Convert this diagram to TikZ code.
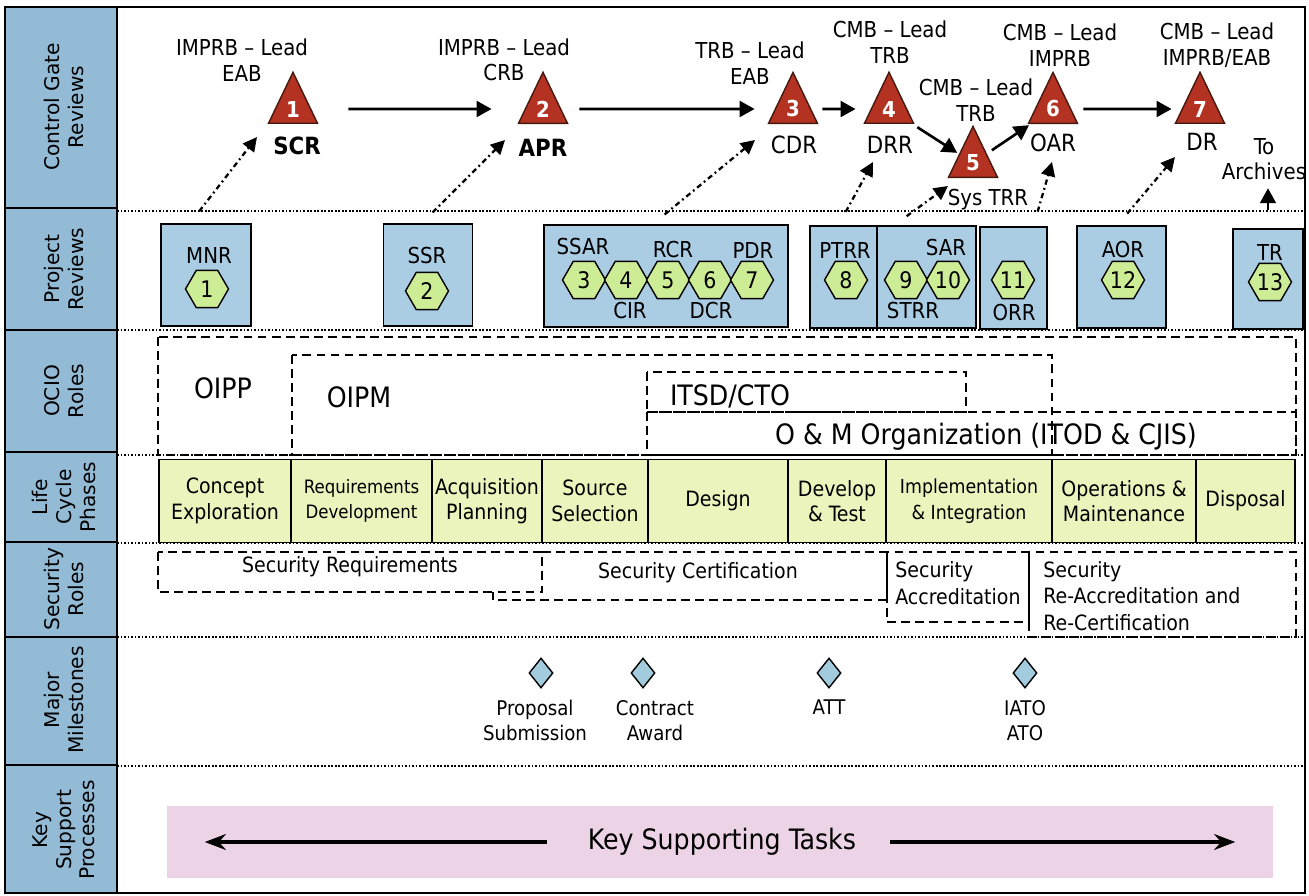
\documentclass[tikz,border=0pt]{standalone}
\usepackage{fontspec}
\setmainfont{DejaVu Sans Condensed}
\newfontfamily\sidefont{DejaVu Sans}
\usetikzlibrary{shapes.geometric,arrows.meta,positioning}
\definecolor{sideblue}{RGB}{147,187,214}
\definecolor{reviewblue}{RGB}{170,205,228}
\definecolor{gatered}{RGB}{180,50,34}
\definecolor{gateedge}{RGB}{70,25,15}
\definecolor{hexgreen}{RGB}{205,236,150}
\definecolor{phasegreen}{RGB}{234,244,188}
\definecolor{milestoneblue}{RGB}{163,203,222}
\definecolor{taskpink}{RGB}{236,212,230}
\tikzstyle{side} = [rotate=90, align=center, inner sep=0,
  font=\sidefont\fontsize{11.5}{13.5}\selectfont]
\tikzstyle{tag} = [inner sep=0, font=\fontsize{12.5}{14.5}\selectfont]
\tikzstyle{lead} = [tag, align=center]
\tikzstyle{gate} = [isosceles triangle, isosceles triangle stretches,
  shape border rotate=90, minimum width=0.98cm, minimum height=1.02cm,
  inner sep=0, draw=gateedge, thick, fill=gatered, text=white,
  font=\bfseries\fontsize{12.5}{12.5}\selectfont]
\tikzstyle{hexnum} = [regular polygon, regular polygon sides=6,
  minimum size=0.86cm, inner sep=0, draw, thick, fill=hexgreen,
  font=\fontsize{13}{13}\selectfont]
\tikzstyle{review} = [rectangle, draw, line width=1.1pt, fill=reviewblue,
  minimum height=2.04cm, inner sep=0]
\tikzstyle{phase} = [rectangle, draw, line width=1.1pt, fill=phasegreen,
  minimum height=1.66cm, align=center, inner sep=0,
  font=\fontsize{12}{14.5}\selectfont]
\tikzstyle{rolebox} = [dash pattern=on 5pt off 3pt, line width=1pt]
\tikzstyle{role} = [inner sep=0, font=\fontsize{16}{18}\selectfont]
\tikzstyle{rowline} = [densely dotted, line width=1pt]
\tikzstyle{flow} = [-{Triangle[length=8.5pt,width=9pt]}, line width=1.5pt]
\tikzstyle{link} = [-{Triangle[length=8pt,width=8pt]}, line width=1.3pt,
  dash pattern=on 3pt off 2pt on 1pt off 2pt, shorten <=0.3cm]
\tikzstyle{milestone} = [diamond, draw, thick, fill=milestoneblue,
  minimum width=0.48cm, minimum height=0.6cm, inner sep=0]
\tikzstyle{mslabel} = [align=center, inner sep=0,
  font=\fontsize{11.5}{14.5}\selectfont]
\tikzstyle{taskarrow} = [-{Stealth[length=12pt,width=9pt]}, line width=2pt]
\begin{document}
\begin{tikzpicture}[x=0.02cm, y=-0.02cm]
  \useasboundingbox (0,0) rectangle (1309,896);

  % Side column
  \fill[sideblue] (6,7) rectangle (117,893);
  \foreach \y in {208,330,452,542,637,765}
    \draw[line width=1.6pt] (6,\y) -- (117,\y);
  \draw[line width=1.6pt] (117,7) -- (117,893);
  \draw[line width=1.2pt] (5,7) rectangle (1305,893);

  \node[side] (s-gate) at (64,107) {Control Gate\\Reviews};
  \node[side] (s-project) at (64,269) {Project\\Reviews};
  \node[side] (s-ocio) at (64,391) {OCIO\\Roles};
  \node[side] (s-life) at (64,497) {Life\\Cycle\\Phases};
  \node[side] (s-security) at (64,589) {Security\\Roles};
  \node[side] (s-major) at (64,700) {Major\\Milestones};
  \node[side] (s-key) at (64,830) {Key\\Support\\Processes};

  % Row separators
  \foreach \y in {211,330,455,543,637,766}
    \draw[rowline] (117,\y) -- (1305,\y);

  % Control gates
  \node[gate] (g1) at (293,109) {1};
  \node[gate] (g2) at (543,109) {2};
  \node[gate] (g3) at (793,109) {3};
  \node[gate] (g4) at (889,109) {4};
  \node[gate] (g5) at (973,163) {5};
  \node[gate] (g6) at (1053,109) {6};
  \node[gate] (g7) at (1200,109) {7};

  \node[lead] (lead1) at (242,60) {IMPRB – Lead\\EAB};
  \node[lead] (lead2) at (504,60) {IMPRB – Lead\\CRB};
  \node[lead] (lead3) at (750,63) {TRB – Lead\\EAB};
  \node[lead] (lead4) at (890,42) {CMB – Lead\\TRB};
  \node[lead] (lead5) at (976,100) {CMB – Lead\\TRB};
  \node[lead] (lead6) at (1060,45) {CMB – Lead\\IMPRB};
  \node[lead] (lead7) at (1217,45) {CMB – Lead\\IMPRB/EAB};

  \node[tag, font=\bfseries\fontsize{13.5}{15}\selectfont] (scr) at (297,146) {SCR};
  \node[tag, font=\bfseries\fontsize{13.5}{15}\selectfont] (apr) at (543,148) {APR};
  \node[tag, font=\fontsize{13.5}{15}\selectfont] (cdr) at (794,145) {CDR};
  \node[tag, font=\fontsize{13.5}{15}\selectfont] (drr) at (890,145) {DRR};
  \node[tag, font=\fontsize{13.5}{15}\selectfont] (oar) at (1053,143) {OAR};
  \node[tag, font=\fontsize{13.5}{15}\selectfont] (dr) at (1202,142) {DR};
  \node[tag] (systrr) at (988,200) {Sys TRR};
  \node[lead] (archives) at (1264,159) {To\\Archives};

  \draw[flow, shorten <=0.74cm, shorten >=0.66cm] (g1) -- (g2);
  \draw[flow, shorten <=0.36cm, shorten >=0.4cm] (g2) -- (g3);
  \draw[flow, shorten <=0.22cm, shorten >=0.3cm] (g3) -- (g4);
  \draw[flow, shorten <=0.12cm, shorten >=0.04cm] (g4) -- (g5);
  \draw[flow, shorten <=0.12cm, shorten >=0.04cm] (g5) -- (g6);
  \draw[flow, shorten <=0.24cm, shorten >=0.2cm] (g6) -- (g7);

  % Project reviews
  \node[review, minimum width=1.8cm] (mnr) at (206,275) {};
  \node[tag] (mnr-t) at (209,255) {MNR};
  \node[hexnum] (h1) at (207,289) {1};

  \node[review, minimum width=1.78cm] (ssr) at (428,275) {};
  \node[tag] (ssr-t) at (427,256) {SSR};
  \node[hexnum] (h2) at (427,291) {2};

  \node[review, minimum width=4.88cm] (pr3) at (666,276) {};
  \node[tag] (ssar) at (583,247) {SSAR};
  \node[tag] (rcr) at (673,250) {RCR};
  \node[tag] (pdr) at (753,250) {PDR};
  \node[hexnum] (h3) at (584,280) {3};
  \node[hexnum] (h4) at (626,280) {4};
  \node[hexnum] (h5) at (668,280) {5};
  \node[hexnum] (h6) at (710,280) {6};
  \node[hexnum] (h7) at (752,280) {7};
  \node[tag] (cir) at (630,311) {CIR};
  \node[tag] (dcr) at (711,311) {DCR};

  \node[review, minimum width=1.34cm] (ptrr) at (843.5,277) {};
  \node[tag] (ptrr-t) at (845,250) {PTRR};
  \node[hexnum] (h8) at (846,280) {8};

  \node[review, minimum width=1.98cm] (strr) at (926.5,277) {};
  \node[tag] (sar) at (946,248) {SAR};
  \node[hexnum] (h9) at (906,280) {9};
  \node[hexnum] (h10) at (948,280) {10};
  \node[tag] (strr-t) at (913,311) {STRR};

  \node[review, minimum width=1.34cm] (orr) at (1013.5,278) {};
  \node[hexnum] (h11) at (1013,280) {11};
  \node[tag] (orr-t) at (1014,312) {ORR};

  \node[review, minimum width=1.78cm] (aor) at (1121.5,277) {};
  \node[tag] (aor-t) at (1123,250) {AOR};
  \node[hexnum] (h12) at (1123,280) {12};

  \node[review, minimum width=1.4cm, minimum height=2cm] (tr) at (1268,279) {};
  \node[tag] (tr-t) at (1270,252) {TR};
  \node[hexnum] (h13) at (1270,282) {13};

  % Review to gate links
  \coordinate (t1) at (257,137);
  \coordinate (t2) at (505,140);
  \coordinate (t3) at (755,140);
  \coordinate (t4) at (873,162);
  \coordinate (t5) at (948,186);
  \coordinate (t6) at (1052,162);
  \coordinate (t7) at (1175,157);
  \draw[link] ([xshift=-0.32cm]mnr.north) -- (t1);
  \draw[link] ([xshift=-0.12cm]ssr.north) -- (t2);
  \draw[link] ([xshift=-0.26cm]pr3.north) -- (t3);
  \draw[link] ([xshift=-0.1cm]ptrr.north) -- (t4);
  \draw[link] ([xshift=-0.64cm]strr.north) -- (t5);
  \draw[link] ([xshift=0.4cm]orr.north) -- (t6);
  \draw[link] ([xshift=-0.08cm]aor.north) -- (t7);
  \draw[flow, line width=1.3pt, shorten <=0.36cm, shorten >=0.16cm]
    (tr.north) -- (tr.north |- archives.south);

  % OCIO roles
  \draw[rolebox] (158,337) rectangle (1296,455);
  \draw[rolebox] (292,355) rectangle (1052,455);
  \draw[rolebox] (647,372) rectangle (966,412);
  \draw[rolebox] (647,412) rectangle (1296,455);
  \node[role] (oipp) at (223,388) {OIPP};
  \node[role] (oipm) at (359,397) {OIPM};
  \node[role] (itsd) at (730,396) {ITSD/CTO};
  \node[role] (om) at (986,437) {O \& M Organization (ITOD \& CJIS)};

  % Life cycle phases
  \node[phase, minimum width=2.64cm] (p1) at (225,501) {Concept\\Exploration};
  \node[phase, minimum width=2.82cm, font=\fontsize{10.5}{14.5}\selectfont]
    (p2) at (361.5,501) {Requirements\\Development};
  \node[phase, minimum width=2.2cm] (p3) at (487,501) {Acquisition\\Planning};
  \node[phase, minimum width=2.12cm] (p4) at (595,501) {Source\\Selection};
  \node[phase, minimum width=2.8cm] (p5) at (718,501) {Design};
  \node[phase, minimum width=1.96cm] (p6) at (837,501) {Develop\\\& Test};
  \node[phase, minimum width=3.32cm, font=\fontsize{11}{14.5}\selectfont]
    (p7) at (969,501) {Implementation\\\& Integration};
  \node[phase, minimum width=2.88cm] (p8) at (1124,501) {Operations \&\\Maintenance};
  \node[phase, minimum width=1.98cm] (p9) at (1245.5,501) {Disposal};

  % Security roles
  \draw[rolebox] (158,552) rectangle (542,592);
  \draw[rolebox] (542,552) -- (887,552) -- (887,600) -- (493,600) -- (493,592);
  \draw[rolebox] (887,552) rectangle (1029,622);
  \draw[rolebox] (1029,552) rectangle (1296,637);
  \node[tag, font=\fontsize{12}{15}\selectfont] (secreq) at (350,567) {Security Requirements};
  \node[tag, font=\fontsize{12}{15}\selectfont] (seccert) at (698,573) {Security Certification};
  \node[tag, align=left, anchor=west, font=\fontsize{12}{15}\selectfont]
    (secacc) at (895,583) {Security\\Accreditation};
  \node[tag, align=left, anchor=west, font=\fontsize{12}{15}\selectfont]
    (secre) at (1043,596) {Security\\Re-Accreditation and\\Re-Certification};

  % Major milestones
  \node[milestone] (ms1) at (541,673) {};
  \node[milestone] (ms2) at (643,673) {};
  \node[milestone] (ms3) at (829,673) {};
  \node[milestone] (ms4) at (1025,673) {};
  \node[mslabel, below=0.22cm of ms1, xshift=-0.12cm] (ms1-t) {Proposal\\Submission};
  \node[mslabel, below=0.22cm of ms2, xshift=0.24cm] (ms2-t) {Contract\\Award};
  \node[mslabel, below=0.22cm of ms3] (ms3-t) {ATT};
  \node[mslabel, below=0.22cm of ms4] (ms4-t) {IATO\\ATO};

  % Key support processes
  \node[rectangle, fill=taskpink, minimum width=22.12cm, minimum height=1.44cm]
    (keys) at (720,842) {};
  \node[tag, font=\fontsize{16}{18}\selectfont] (tasks) at (722,842) {Key Supporting Tasks};
  \draw[taskarrow, shorten <=0.82cm, shorten >=0.76cm] (tasks.west) -- (keys.west);
  \draw[taskarrow, shorten <=0.68cm, shorten >=0.76cm] (tasks.east) -- (keys.east);
\end{tikzpicture}
\end{document}
